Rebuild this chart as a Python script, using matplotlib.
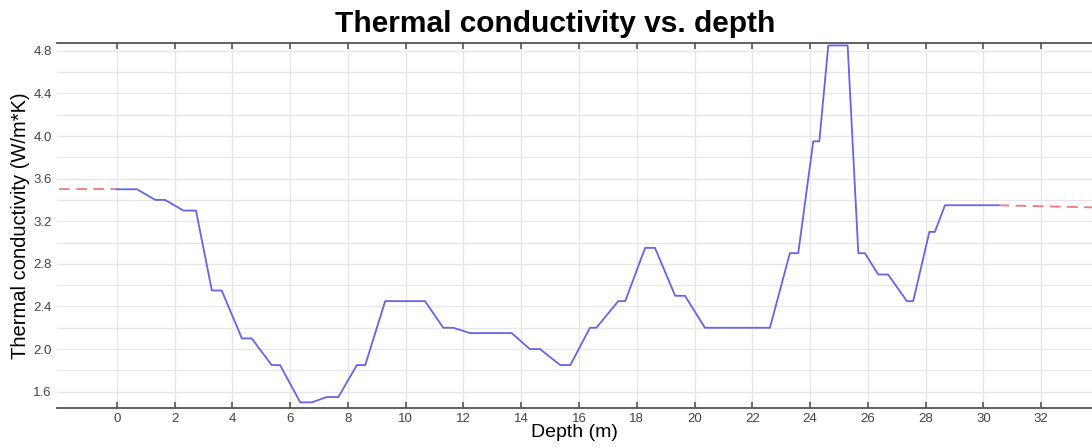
import matplotlib
matplotlib.use("Agg")
import matplotlib.pyplot as plt
from matplotlib.ticker import MultipleLocator

# Профіль теплопровідності (глибина, м / W/m*K)
depth = [0.0, 0.70, 1.33, 1.67, 2.31, 2.74, 3.29, 3.63, 4.33, 4.67,
         5.36, 5.65, 6.35, 6.75, 7.27, 7.67, 8.31, 8.60, 9.29, 10.67,
         11.30, 11.65, 12.23, 13.67, 14.30, 14.65, 15.35, 15.70, 16.38, 16.60,
         17.36, 17.60, 18.29, 18.63, 19.33, 19.67, 20.36, 22.61, 23.30, 23.59,
         24.11, 24.32, 24.63, 25.30, 25.67, 25.90, 26.36, 26.70, 27.35, 27.57,
         28.13, 28.32, 28.67, 30.52]
conductivity = [3.50, 3.50, 3.40, 3.40, 3.30, 3.30, 2.55, 2.55, 2.10, 2.10,
                1.85, 1.85, 1.50, 1.50, 1.55, 1.55, 1.85, 1.85, 2.45, 2.45,
                2.20, 2.20, 2.15, 2.15, 2.00, 2.00, 1.85, 1.85, 2.20, 2.20,
                2.45, 2.45, 2.95, 2.95, 2.50, 2.50, 2.20, 2.20, 2.90, 2.90,
                3.95, 3.95, 4.85, 4.85, 2.90, 2.90, 2.70, 2.70, 2.45, 2.45,
                3.10, 3.10, 3.35, 3.35]

# Екстраполяція (червоний пунктир)
left_depth = [-2.0, 0.0]
left_value = [3.50, 3.50]
right_depth = [30.52, 33.8]
right_value = [3.35, 3.33]

xticks = list(range(0, 34, 2))

fig = plt.figure(figsize=(10.92, 4.48), dpi=100)
ax = fig.add_axes([0.0525, 0.09, 0.9475, 0.8133])

ax.plot(left_depth, left_value, color="#f07a7a", linestyle=(0, (6, 3.5)), linewidth=1.3)
ax.plot(right_depth, right_value, color="#f07a7a", linestyle=(0, (6, 3.5)), linewidth=1.3)
ax.plot(depth, conductivity, color="#6464ec", linewidth=1.3, solid_joinstyle="round")

ax.set_xlim(-2.06, 33.76)
ax.set_ylim(1.45, 4.87)
ax.set_xticks(xticks)
ax.yaxis.set_major_locator(MultipleLocator(0.4))
ax.yaxis.set_minor_locator(MultipleLocator(0.2))
ax.yaxis.set_major_formatter(plt.FormatStrFormatter("%.1f"))

ax.grid(True, which="major", axis="x", color="#e6e6e6", linewidth=0.9)
ax.grid(True, which="both", axis="y", color="#e6e6e6", linewidth=0.9)
ax.set_axisbelow(True)

for side in ["left", "right"]:
    ax.spines[side].set_visible(False)
for side in ["top", "bottom"]:
    ax.spines[side].set_color("#555555")
    ax.spines[side].set_linewidth(1.3)

ax.tick_params(axis="x", which="both", direction="in", top=True, bottom=True,
               length=4, width=1.2, color="#555555", labelsize=9.5,
               labelcolor="#444444", pad=4)
ax.tick_params(axis="y", which="both", length=0, labelsize=9.5,
               labelcolor="#444444", pad=4)

ax.set_xlabel("Depth (m)", fontsize=14, family="Liberation Sans", labelpad=-1)
ax.set_ylabel("Thermal conductivity (W/m*K)", fontsize=14.5, family="Liberation Sans", labelpad=2)
for lab in ax.get_xticklabels() + ax.get_yticklabels():
    lab.set_family("Liberation Sans")

fig.text(0.508, 0.929, "Thermal conductivity vs. depth", ha="center", va="baseline",
         fontsize=21.5, fontweight="bold", family="Liberation Sans")

fig.savefig("out.png", dpi=100)
